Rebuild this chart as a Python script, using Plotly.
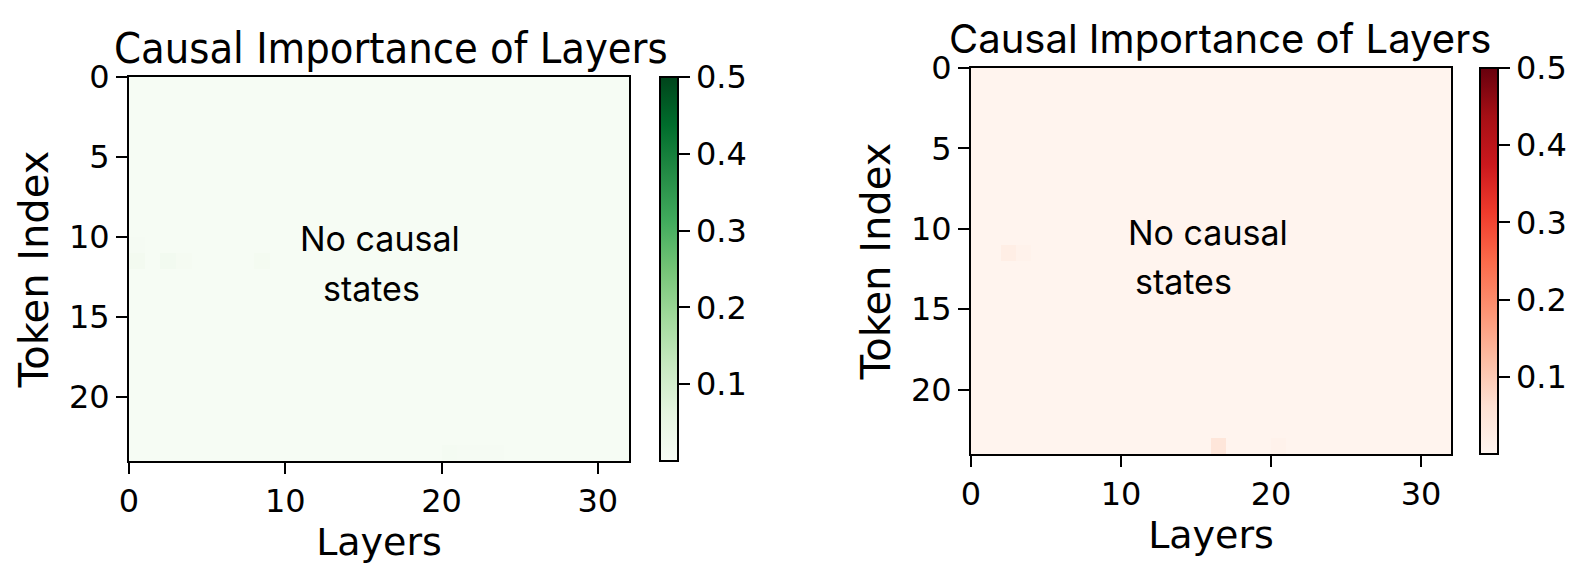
import numpy as np
import plotly.graph_objects as go

W, H = 1582, 568

# grid size: 32 layers x 24 tokens
n_layers = 32
n_tokens = 24
layers = [i + 0.5 for i in range(n_layers)]
tokens = [i + 0.5 for i in range(n_tokens)]

# left heatmap (Greens): nearly flat, a few faint cells
green_base = 0.004
green_rows = [10, 11, 11, 11, 11, 23, 23, 23, 23]
green_cols = [0, 0, 2, 3, 8, 20, 21, 22, 23]
green_vals = [0.006, 0.014, 0.016, 0.008, 0.011, 0.009, 0.006, 0.006, 0.006]

# right heatmap (Reds)
red_base = 0.004
red_rows = [11, 11, 23, 23]
red_cols = [2, 3, 16, 20]
red_vals = [0.022, 0.01, 0.045, 0.01]

cbar_ticks = [0.1, 0.2, 0.3, 0.4, 0.5]
axis_ticks = [0, 10, 20, 30]
token_ticks = [0, 5, 10, 15, 20]

greens = ["#f7fcf5", "#e5f5e0", "#c7e9c0", "#a1d99b", "#74c476",
          "#41ab5d", "#238b45", "#006d2c", "#00441b"]
reds = ["#fff5f0", "#fee0d2", "#fcbba1", "#fc9272", "#fb6a4a",
        "#ef3b2c", "#cb181d", "#a50f15", "#67000d"]


def scale(cols):
    return [[i / (len(cols) - 1), c] for i, c in enumerate(cols)]


def grid(base, rows, cols, vals):
    z = np.full((n_tokens, n_layers), base)
    for r, c, v in zip(rows, cols, vals):
        z[r, c] = v
    return z


def px_x(p):
    return p / W


def px_y(p):
    return 1 - p / H


TICKFONT = dict(family="DejaVu Sans", size=32, color="black")
XLABFONT = dict(family="DejaVu Sans", size=38, color="black")
YLABFONT = dict(family="DejaVu Sans", size=40, color="black")
NOTEFONT = dict(family="Inter, Open Sans, sans-serif", size=34, color="black")

# pixel boxes of the two panels (left, right, top, bottom)
boxes = [(121, 621, 69, 453), (963, 1443, 60, 446)]
cbars = [(652, 69, 453), (1472, 60, 446)]

fig = go.Figure()
data = [(grid(green_base, green_rows, green_cols, green_vals), greens),
        (grid(red_base, red_rows, red_cols, red_vals), reds)]

for k, ((z, cols), (cx, ct, cb)) in enumerate(zip(data, cbars)):
    sfx = "" if k == 0 else "2"
    fig.add_trace(go.Heatmap(
        z=z, x=layers, y=tokens, xaxis="x" + sfx, yaxis="y" + sfx,
        colorscale=scale(cols), zmin=0, zmax=0.5, hoverinfo="skip",
        colorbar=dict(
            x=px_x(cx), xanchor="left", y=px_y(cb), yanchor="bottom",
            len=(cb - ct) / H, lenmode="fraction", thickness=18,
            xpad=0, ypad=0, outlinewidth=2, outlinecolor="black",
            tickvals=cbar_ticks, ticks="outside", ticklen=11, tickwidth=2,
            tickcolor="black", tickfont=TICKFONT,
        ),
    ))

layout = dict(width=W, height=H,
              margin=dict(l=0, r=0, t=0, b=0, autoexpand=False),
              paper_bgcolor="white", plot_bgcolor="white", showlegend=False)

for k, (l, r, t, b) in enumerate(boxes):
    sfx = "" if k == 0 else "2"
    layout["xaxis" + sfx] = dict(
        domain=[px_x(l), px_x(r)], range=[0, n_layers], anchor="y" + sfx,
        tickvals=axis_ticks, ticks="outside", ticklen=11, tickwidth=2,
        tickcolor="black", tickfont=TICKFONT, showgrid=False, zeroline=False,
        showline=True, linewidth=2, linecolor="black", mirror=True,
        title=dict(text="Layers", font=XLABFONT, standoff=4),
    )
    layout["yaxis" + sfx] = dict(
        domain=[px_y(b), px_y(t)], range=[n_tokens, 0], anchor="x" + sfx,
        tickvals=token_ticks, ticks="outside", ticklen=11, tickwidth=2,
        tickcolor="black", tickfont=TICKFONT, showgrid=False, zeroline=False,
        showline=True, linewidth=2, linecolor="black", mirror=True,
        title=dict(text="Token Index", font=YLABFONT, standoff=8),
    )

fig.update_layout(**layout)

# panel titles
fig.add_annotation(x=px_x(383), y=px_y(40), xref="paper", yref="paper",
                   text="Causal Importance of Layers", showarrow=False,
                   xanchor="center", yanchor="middle",
                   font=dict(family="DejaVu Sans Condensed, DejaVu Sans",
                             size=43, color="black"))
fig.add_annotation(x=px_x(1212), y=px_y(30), xref="paper", yref="paper",
                   text="Causal Importance of Layers", showarrow=False,
                   xanchor="center", yanchor="middle",
                   font=dict(family="Inter, Open Sans, sans-serif", size=40,
                             color="black"))

# "No causal states" notes
notes = [("x", "y", 10.8, 10.1, 12.3, 13.2),
         ("x2", "y2", 10.3, 10.2, 10.8, 13.3)]
for xr, yr, x1, y1, x2, y2 in notes:
    fig.add_annotation(x=x1, y=y1, xref=xr, yref=yr, text="No causal",
                       showarrow=False, xanchor="left", yanchor="middle",
                       font=NOTEFONT)
    fig.add_annotation(x=x2, y=y2, xref=xr, yref=yr, text="states",
                       showarrow=False, xanchor="left", yanchor="middle",
                       font=NOTEFONT)

fig.write_html("out.html")
